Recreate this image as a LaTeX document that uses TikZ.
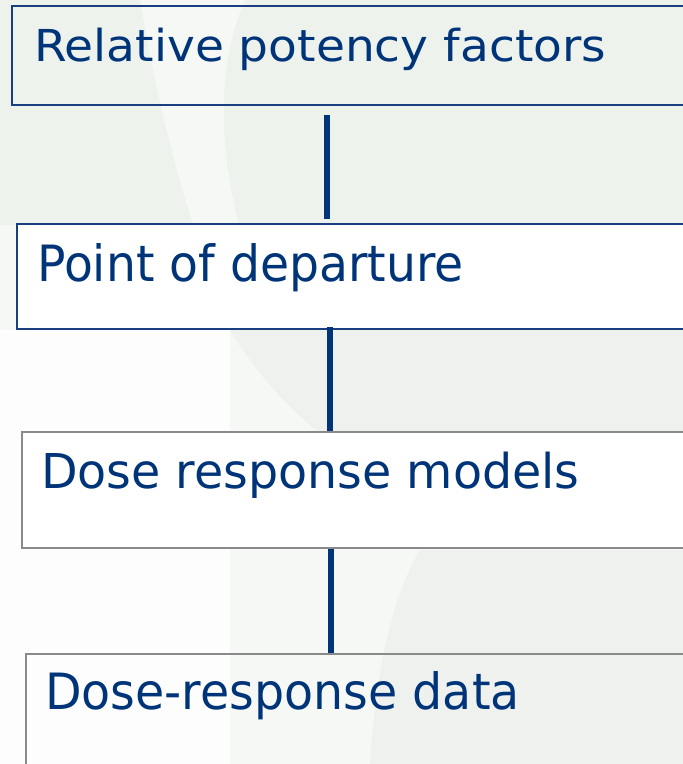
\documentclass[tikz,border=0pt]{standalone}
\usepackage{fontspec}
\usepackage{graphicx}
\setmainfont{DejaVu Sans}
\definecolor{navy}{HTML}{003479}
\definecolor{navyline}{HTML}{1A3F80}
\definecolor{greyline}{HTML}{8A8A8A}
\definecolor{bgA}{HTML}{F6F8F6}
\definecolor{bgB}{HTML}{EDF2ED}
\definecolor{bgC}{HTML}{EFF1EF}
\definecolor{bgS}{HTML}{F5F8F5}
\definecolor{bgW}{HTML}{FCFDFC}
\tikzset{
  box/.style={rectangle, anchor=north west, inner sep=0pt},
  bluebox/.style={box, draw=navyline, line width=2.4pt},
  greybox/.style={box, draw=greyline, line width=2pt},
  lbl/.style={anchor=base west, inner sep=0pt, text=navy},
  conn/.style={draw=navy, line width=6.5pt}
}
\begin{document}
\begin{tikzpicture}[x=1pt,y=-1pt]
\useasboundingbox (0,0) rectangle (683,764);
\clip (0,0) rectangle (683,764);
% background
\fill[bgA] (0,0) rectangle (683,764);
\fill[bgB] (0,0) rectangle (683,225);
\fill[bgS] (140,0) .. controls (155,90) and (175,170) .. (195,230) -- (240,230) .. controls (220,150) and (215,70) .. (245,0) -- cycle;
\fill[bgW] (0,330) rectangle (230,764);
\fill[bgC] (230,330) .. controls (260,380) and (300,420) .. (330,440) -- (683,440) -- (683,330) -- cycle;
\fill[bgC] (683,550) -- (420,550) .. controls (390,600) and (375,680) .. (370,764) -- (683,764) -- cycle;
% boxes
\node[bluebox, minimum width=700pt, minimum height=99pt] (b1) at (11,5) {};
\node[bluebox, fill=white, minimum width=700pt, minimum height=105pt] (b2) at (16,223) {};
\node[greybox, fill=white, minimum width=700pt, minimum height=116pt] (b3) at (21,431) {};
\node[greybox, minimum width=700pt, minimum height=130pt] (b4) at (25,653) {};
% labels
\node[lbl] (t1) at (34,61) {\fontsize{44}{53}\selectfont\scalebox{1.07}[1]{Relative potency factors}};
\node[lbl] (t2) at (37,281) {\fontsize{50}{60}\selectfont\scalebox{0.945}[1]{Point of departure}};
\node[lbl] (t3) at (41,488) {\fontsize{48}{58}\selectfont\scalebox{0.99}[1]{Dose response models}};
\node[lbl] (t4) at (45,709) {\fontsize{50}{60}\selectfont\scalebox{0.95}[1]{Dose-response data}};
% connector x positions
\coordinate (c1) at (327,0);
\coordinate (c2) at (330,0);
\coordinate (c3) at (331,0);
\draw[conn] ([yshift=-9pt]b1.south -| c1) -- ([yshift=4pt]b2.north -| c1);
\draw[conn] ([yshift=3pt]b2.south -| c2) -- (b3.north -| c2);
\draw[conn] (b3.south -| c3) -- (b4.north -| c3);
\end{tikzpicture}
\end{document}
